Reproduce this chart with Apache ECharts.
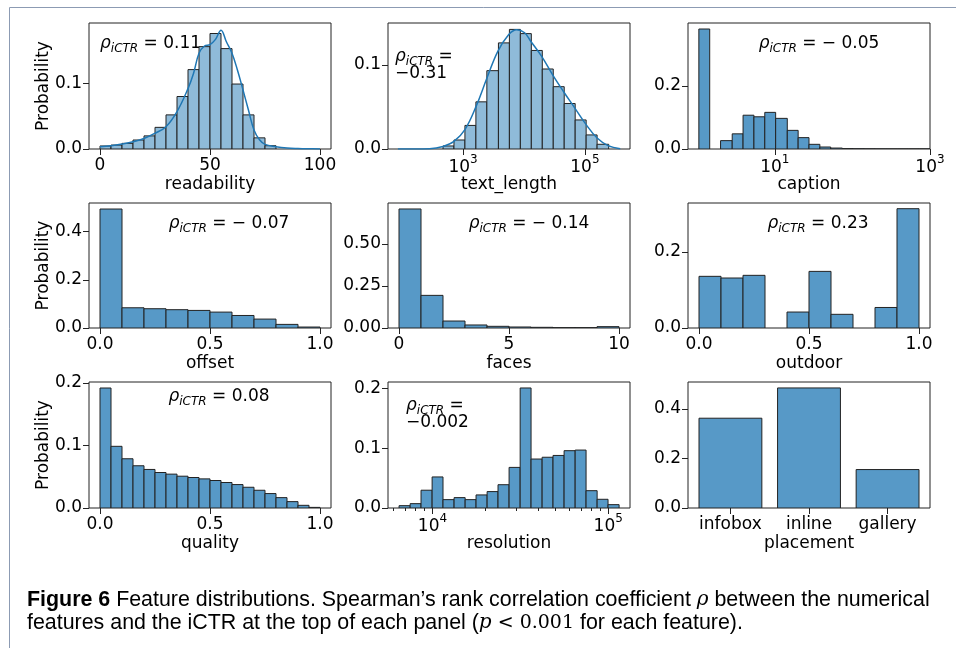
<!DOCTYPE html>
<html><head><meta charset="utf-8">
<script src="https://cdn.jsdelivr.net/npm/echarts@6/dist/echarts.min.js"></script>
<style>html,body{margin:0;padding:0;background:#fff}#c{width:956px;height:648px}</style>
</head><body><div id="c"></div>
<script>
// ---------------- data ----------------
const readabilityEdges = [0,5,10,15,20,25,30,35,40,45,50,55,60,65,70,75,80];
const readabilityProb  = [0.0046,0.006,0.0086,0.0137,0.020,0.033,0.052,0.080,0.121,0.156,0.176,0.153,0.099,0.052,0.017,0.005];
const readabilityKdeX  = [0,5,10,15,20,25,30,35,40,42.5,45,47.5,50,52.5,55,57.5,60,62.5,65,67.5,70,72.5,75,80,85,90,95,100];
const readabilityKdeY  = [0.0035,0.005,0.0076,0.011,0.016,0.024,0.034,0.057,0.092,0.115,0.146,0.157,0.159,0.167,0.181,0.163,0.146,0.120,0.090,0.059,0.029,0.014,0.007,0.0035,0.0015,0.0007,0.0003,0.0001];

// log10 of text length
const textLengthLogEdges = [2.67,2.85,3.03,3.21,3.39,3.58,3.76,3.94,4.12,4.30,4.48,4.66,4.84,5.02,5.20,5.39];
const textLengthProb     = [0.0036,0.0107,0.028,0.056,0.093,0.126,0.142,0.137,0.117,0.095,0.074,0.054,0.0345,0.0167,0.0056];
const textLengthKdeLogX  = [1.93,2.45,2.67,2.85,3.03,3.21,3.39,3.57,3.75,3.88,4.01,4.11,4.29,4.47,4.65,4.84,5.02,5.20,5.38,5.58];
const textLengthKdeY     = [0.0,0.0004,0.003,0.009,0.023,0.050,0.084,0.116,0.136,0.1417,0.138,0.128,0.110,0.088,0.068,0.048,0.029,0.013,0.004,0.0004];

const captionLogEdges = [0.02,0.16,0.30,0.45,0.59,0.73,0.87,1.01,1.16,1.30,1.44,1.58,1.72,1.87,2.01,2.15,2.29,2.43,2.58,2.72,2.86,3.00];
const captionProb     = [0.380,0,0.0265,0.048,0.107,0.102,0.116,0.097,0.059,0.036,0.0148,0.0063,0.003,0.0012,0.0007,0.0004,0.0002,0.0001,0.0001,0.0001,0.0001];

const offsetEdges = [0,0.1,0.2,0.3,0.4,0.5,0.6,0.7,0.8,0.9,1.0];
const offsetProb  = [0.494,0.084,0.080,0.076,0.073,0.066,0.052,0.037,0.015,0.004];

const facesEdges = [0,1,2,3,4,5,6,7,8,9,10];
const facesProb  = [0.7075,0.194,0.0415,0.018,0.010,0.006,0.004,0.002,0.002,0.008];

const outdoorEdges = [0,0.1,0.2,0.3,0.4,0.5,0.6,0.7,0.8,0.9,1.0];
const outdoorProb  = [0.136,0.1316,0.1386,0,0.042,0.149,0.036,0,0.054,0.314];

const qualityEdges = [0,0.05,0.1,0.15,0.2,0.25,0.3,0.35,0.4,0.45,0.5,0.55,0.6,0.65,0.7,0.75,0.8,0.85,0.9,0.95,1.0];
const qualityProb  = [0.192,0.0987,0.0788,0.0676,0.0617,0.0568,0.0542,0.0509,0.0488,0.0466,0.044,0.0408,0.0375,0.0332,0.0284,0.0231,0.0166,0.0102,0.0043,0.001];

const resolutionLogEdges = [3.810,3.873,3.935,3.998,4.060,4.123,4.186,4.248,4.311,4.373,4.436,4.499,4.561,4.624,4.686,4.749,4.812,4.874,4.937,4.999,5.062];
const resolutionProb     = [0.0039,0.0073,0.0298,0.052,0.014,0.0174,0.014,0.0219,0.0275,0.039,0.068,0.201,0.082,0.085,0.088,0.096,0.097,0.029,0.0146,0.0056];
const resolutionMinorTicks = [6000,7000,8000,9000,20000,30000,40000,50000,60000,70000,80000,90000];

const placementCats = ['infobox','inline','gallery'];
const placementProb = [0.362,0.484,0.155];

const rhoLabels = ['0.11','−0.31','− 0.05','− 0.07','− 0.14','0.23','0.08','−0.002'];

// ---------------- styling / layout ----------------
const FONT = 'DejaVu Sans';
const LIGHT = '#8fbbd9';
const MID = '#5799c7';
const EDGE = '#222222';
const COL_LEFT = [89, 388, 688];
const ROW_TOP = [23, 203, 382];
const ROW_H = [126, 125, 126];
const GW = 242;

const pow10fmt = v => '{b|10}{e|' + Math.round(v) + '}';
const supRich = {
  b: {fontFamily: FONT, fontSize: 17, color: '#000', lineHeight: 22, verticalAlign: 'bottom'},
  e: {fontFamily: FONT, fontSize: 12, color: '#000', lineHeight: 12, verticalAlign: 'top'}
};

function binsOf(edges, probs) {
  const out = [];
  for (let i = 0; i < probs.length; i++) if (probs[i] > 0) out.push([edges[i], edges[i + 1], probs[i]]);
  return out;
}

const panels = [
  {bins: binsOf(readabilityEdges, readabilityProb), color: LIGHT, xmin: -5, xmax: 105, xticks: [0, 50, 100], xfmt: v => String(v),
   ymax: 0.192, yticks: [0, 0.1], ydec: 1, name: 'readability', kde: readabilityKdeX.map((x, i) => [x, readabilityKdeY[i]])},
  {bins: binsOf(textLengthLogEdges, textLengthProb), color: LIGHT, xmin: 1.767, xmax: 5.74, xticks: [3, 5], xfmt: pow10fmt, rich: true,
   ymax: 0.1496, yticks: [0, 0.1], ydec: 1, name: 'text_length', kde: textLengthKdeLogX.map((x, i) => [x, textLengthKdeY[i]])},
  {bins: binsOf(captionLogEdges, captionProb), color: MID, xmin: -0.12, xmax: 3.0, xticks: [1, 3], xfmt: pow10fmt, rich: true,
   ymax: 0.399, yticks: [0, 0.2], ydec: 1, name: 'caption'},
  {bins: binsOf(offsetEdges, offsetProb), color: MID, xmin: -0.05, xmax: 1.05, xticks: [0, 0.5, 1], xfmt: v => v.toFixed(1),
   ymax: 0.519, yticks: [0, 0.2, 0.4], ydec: 1, name: 'offset'},
  {bins: binsOf(facesEdges, facesProb), color: MID, xmin: -0.5, xmax: 10.5, xticks: [0, 5, 10], xfmt: v => String(v),
   ymax: 0.743, yticks: [0, 0.25, 0.5], ydec: 2, name: 'faces'},
  {bins: binsOf(outdoorEdges, outdoorProb), color: MID, xmin: -0.05, xmax: 1.05, xticks: [0, 0.5, 1], xfmt: v => v.toFixed(1),
   ymax: 0.329, yticks: [0, 0.2], ydec: 1, name: 'outdoor'},
  {bins: binsOf(qualityEdges, qualityProb), color: MID, xmin: -0.05, xmax: 1.05, xticks: [0, 0.5, 1], xfmt: v => v.toFixed(1),
   ymax: 0.2016, yticks: [0, 0.1, 0.2], ydec: 1, name: 'quality'},
  {bins: binsOf(resolutionLogEdges, resolutionProb), color: MID, xmin: 3.747, xmax: 5.124, xticks: [4, 5], xfmt: pow10fmt, rich: true,
   ymax: 0.211, yticks: [0, 0.1, 0.2], ydec: 1, name: 'resolution', minor: resolutionMinorTicks.map(v => Math.log10(v))},
  {bins: placementProb.map((p, i) => [i - 0.4, i + 0.4, p]), color: MID, xmin: -0.54, xmax: 2.54, xticks: [0, 1, 2],
   xfmt: v => placementCats[Math.round(v)], ymax: 0.508, yticks: [0, 0.2, 0.4], ydec: 1, name: 'placement'}
];

const grids = [], xAxes = [], yAxes = [], series = [];
panels.forEach((p, i) => {
  const r = Math.floor(i / 3), c = i % 3;
  grids.push({left: COL_LEFT[c], top: ROW_TOP[r], width: GW, height: ROW_H[r], show: true,
              borderColor: EDGE, borderWidth: 1, backgroundColor: 'transparent'});
  xAxes.push({
    gridIndex: i, type: 'value', position: 'bottom', min: p.xmin, max: p.xmax,
    axisLine: {show: false, onZero: false}, splitLine: {show: false},
    axisTick: {show: true, length: 6, lineStyle: {color: EDGE, width: 1}, customValues: p.xticks},
    axisLabel: {customValues: p.xticks, formatter: p.xfmt, fontFamily: FONT, fontSize: 17, color: '#000',
                margin: p.rich ? 5 : 8, rich: p.rich ? supRich : undefined},
    name: p.name, nameLocation: 'middle', nameGap: 27, nameMoveOverlap: false,
    nameTextStyle: {fontFamily: FONT, fontSize: 17, color: '#000'}
  });
  yAxes.push({
    gridIndex: i, type: 'value', position: 'left', min: 0, max: p.ymax,
    axisLine: {show: false, onZero: false}, splitLine: {show: false},
    axisTick: {show: true, length: 6, lineStyle: {color: EDGE, width: 1}, customValues: p.yticks},
    axisLabel: {customValues: p.yticks, formatter: v => v.toFixed(p.ydec), fontFamily: FONT, fontSize: 17, color: '#000', margin: 7},
    name: c === 0 ? 'Probability' : '', nameLocation: 'middle', nameGap: 37, nameMoveOverlap: false,
    nameTextStyle: {fontFamily: FONT, fontSize: 17, color: '#000'}
  });
  const color = p.color;
  series.push({
    type: 'custom', xAxisIndex: i, yAxisIndex: i, data: p.bins, encode: {x: [0, 1], y: 2}, clip: true,
    renderItem: (params, api) => {
      const a = api.coord([api.value(0), api.value(2)]);
      const b = api.coord([api.value(1), 0]);
      return {type: 'rect', shape: {x: a[0], y: a[1], width: b[0] - a[0], height: b[1] - a[1]},
              style: {fill: color, stroke: EDGE, lineWidth: 1}};
    }
  });
  if (p.kde) {
    series.push({type: 'line', xAxisIndex: i, yAxisIndex: i, data: p.kde, smooth: 0.4, showSymbol: false,
                 lineStyle: {color: '#1f77b4', width: 1.5}, z: 5});
  }
});
// minor ticks for the resolution log axis
panels.forEach((p, i) => {
  if (!p.minor) return;
  xAxes.push({gridIndex: i, type: 'value', position: 'bottom', min: p.xmin, max: p.xmax,
    axisLine: {show: false, onZero: false}, splitLine: {show: false},
    axisTick: {show: true, length: 3, lineStyle: {color: EDGE, width: 1}, customValues: p.minor},
    axisLabel: {show: false}});
});

// annotations
const rhoRich = {
  r: {fontFamily: FONT, fontStyle: 'italic', fontSize: 17, color: '#000', lineHeight: 22, verticalAlign: 'middle'},
  s: {fontFamily: FONT, fontStyle: 'italic', fontSize: 12, color: '#000', lineHeight: 12, verticalAlign: 'bottom'},
  t: {fontFamily: FONT, fontSize: 17, color: '#000', lineHeight: 22, verticalAlign: 'middle'}
};
function rhoText(x, y, val, align, twoLine) {
  const els = [];
  if (twoLine) {
    els.push({type: 'text', x: x, y: y, style: {text: '{r|ρ}{s|iCTR}{t| =}', rich: rhoRich, align: 'left', verticalAlign: 'middle'}});
    els.push({type: 'text', x: x, y: y + 17, style: {text: '{t|' + val + '}', rich: rhoRich, align: 'left', verticalAlign: 'middle'}});
  } else {
    els.push({type: 'text', x: x, y: y, style: {text: '{r|ρ}{s|iCTR}{t| = ' + val + '}', rich: rhoRich, align: align, verticalAlign: 'middle'}});
  }
  return els;
}
const graphics = [].concat(
  rhoText(100, 44, rhoLabels[0], 'left'),
  rhoText(395, 57, rhoLabels[1], 'left', true),
  rhoText(819, 44, rhoLabels[2], 'center'),
  rhoText(229, 224, rhoLabels[3], 'center'),
  rhoText(529, 224, rhoLabels[4], 'center'),
  rhoText(818, 224, rhoLabels[5], 'center'),
  rhoText(219, 397, rhoLabels[6], 'center'),
  rhoText(406, 406, rhoLabels[7], 'left', true)
);
// figure frame
graphics.push({type: 'rect', shape: {x: 9.5, y: 7.5, width: 1000, height: 700}, style: {fill: 'none', stroke: '#8c9bb3', lineWidth: 1}, z: -1});
// caption
const capRich = {
  bold: {fontFamily: 'Liberation Sans', fontWeight: 'bold', fontSize: 21.4, color: '#000'},
  n: {fontFamily: 'Liberation Sans', fontSize: 21.4, color: '#000'},
  m: {fontFamily: 'DejaVu Serif', fontStyle: 'italic', fontSize: 20, color: '#000'},
  ms: {fontFamily: 'DejaVu Serif', fontSize: 19, color: '#000'}
};
graphics.push({type: 'text', x: 27, y: 600, style: {rich: capRich, verticalAlign: 'middle', align: 'left',
  text: '{bold|Figure 6}{n| Feature distributions. Spearman’s rank correlation coefficient }{m|ρ}{n| between the numerical}'}});
graphics.push({type: 'text', x: 27, y: 623, style: {rich: capRich, verticalAlign: 'middle', align: 'left',
  text: '{n|features and the iCTR at the top of each panel (}{m|p}{ms| < 0.001}{n| for each feature).}'}});

const chart = echarts.init(document.getElementById('c'), null, {renderer: 'canvas'});
chart.setOption({
  animation: false,
  backgroundColor: '#fff',
  grid: grids, xAxis: xAxes, yAxis: yAxes, series: series, graphic: graphics
});
</script></body></html>
